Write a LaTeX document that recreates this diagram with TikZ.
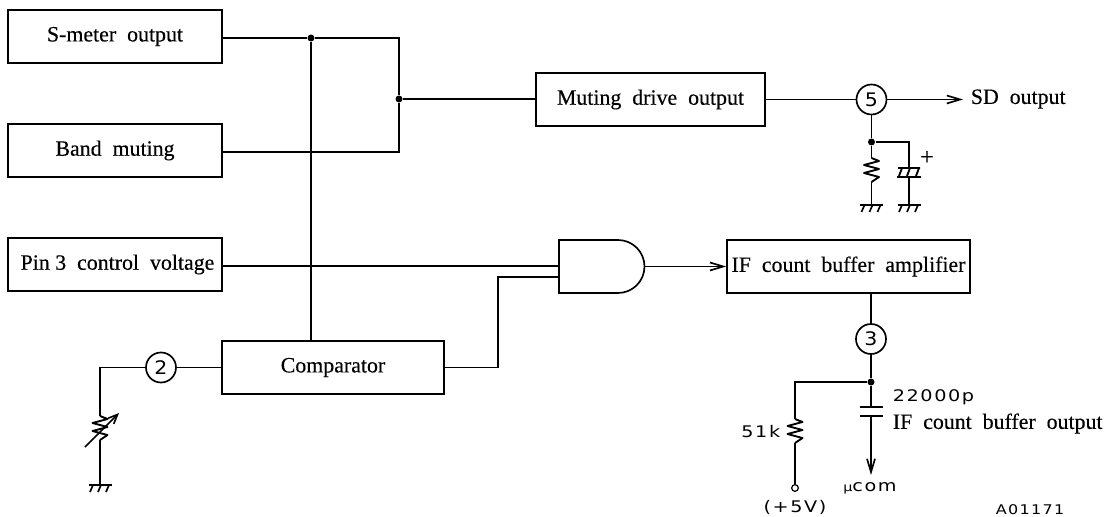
\documentclass[tikz,border=0pt]{standalone}
\usepackage{fontspec}
\usetikzlibrary{arrows.meta}
\setmainfont[FakeBold=0.3]{Liberation Serif}
\newfontfamily\labelfont[LetterSpace=10,FakeStretch=1.2]{DejaVu Sans}
\newfontfamily\pinfont[FakeStretch=1.1]{DejaVu Sans}
\begin{document}
\begin{tikzpicture}[x=0.75pt,y=-0.75pt,line width=1.25pt]

    \tikzset{
      blockbox/.style={
        draw,
        inner sep=0pt,
        minimum height=39.75pt,
        font=\fontsize{16.4}{18}\selectfont,
      },
      pincircle/.style={
        draw,
        circle,
        inner sep=0pt,
        minimum size=22.5pt,
        font=\pinfont\fontsize{14}{15}\selectfont,
      },
      dot/.style={
        circle,
        fill,
        inner sep=0pt,
        minimum size=5.25pt,
      },
      opendot/.style={
        draw,
        circle,
        inner sep=0pt,
        minimum size=5pt,
        line width=0.9pt,
      },
      plain/.style={
        inner sep=0pt,
        anchor=west,
        font=\fontsize{16.4}{18}\selectfont,
      },
      spaced/.style={
        inner sep=0pt,
        font=\labelfont\fontsize{12}{14}\selectfont,
      },
      sigarrow/.style={
        -{Straight Barb[length=10pt,width=6pt]},
      },
      resv/.pic={
        \coordinate (-t) at (0,-12);
        \coordinate (-b) at (0,12);
        \draw[line join=round,line width=1.4pt] (0,-12)--(7.5,-9)--(-7.5,-5)--(7.5,-1)--(-7.5,3)--(7.5,7)--(0,12);
      },
      gnd/.pic={
        \coordinate (-t) at (0,0);
        \draw[line width=1.8pt] (-11.5,0)--(11.5,0);
        \draw (-7,0)--(-10,7) (1,0)--(-2,7) (9,0)--(6,7);
      },
    }
    \clip (0,0) rectangle (1111,517);

    \node[blockbox,minimum width=160.5pt] (smeter) at (115,36.5) {S-meter\ \ output\hspace{10.5pt}};
    \node[blockbox,minimum width=160.5pt] (band) at (115,150.5) {Band\ \ muting\hspace{4.5pt}};
    \node[blockbox,minimum width=160.5pt] (pinv) at (115,264.5) {\hspace{3.75pt}Pin 3\ \ control\ \ voltage};
    \node[blockbox,minimum width=166.5pt] (comp) at (333,367.5) {Comparator\hspace{13.5pt}};
    \node[blockbox,minimum width=171.75pt] (drive) at (650.5,99.5) {Muting\ \ drive\ \ output};
    \node[blockbox,minimum width=182.25pt] (ifamp) at (848.5,266.5) {IF\ \ count\ \ buffer\ \ amplifier};

    \node[pincircle] (pfive) at (871.5,99.5) {5};
    \node[pincircle] (pthree) at (871,339) {3};
    \node[pincircle] (ptwo) at (161,367.5) {2};

    % gate
    \draw (559,240)--(618,240) arc (-90:90:26.5)--(559,293)--cycle;
    \coordinate (gatea) at (559,266);
    \coordinate (gateb) at (559,277);
    \coordinate (gateo) at (644.5,266.5);

    % logic side
    \node[dot] (jsm) at (311,38) {};
    \node[dot] (jor) at (399,99) {};
    \coordinate (orhigh) at (399,38);
    \coordinate (orlow) at (399,152);
    \coordinate (combend) at (498,277);
    \draw (smeter.east |- jsm)--(jsm)--(orhigh)--(jor)--(orlow)--(band.east |- orlow);
    \draw (jsm)--(comp.north -| jsm);
    \draw (jor)--(drive.west |- jor);
    \draw (pinv.east |- gatea)--(gatea);
    \draw (comp.east)--(combend |- comp.east)--(combend)--(gateb);
    \draw[sigarrow] (gateo)--(ifamp.west |- gateo);
    \draw (drive.east |- pfive)--(pfive);

    % SD output
    \coordinate (sdend) at (963,99.5);
    \node[plain] (sdtext) at (970,99) {SD\ \ output};
    \draw[sigarrow] (pfive)--(sdend);
    \node[dot] (jsd) at (871.5,142) {};
    \pic (rsd) at (871.5,170) {resv};
    \pic (gsd) at (871.5,205) {gnd};
    \pic (gcap) at (909,205) {gnd};
    \coordinate (capa) at (909,168);
    \coordinate (capb) at (909,177);
    \draw (pfive)--(jsd)--(rsd-t);
    \draw (rsd-b)--(gsd-t);
    \draw (jsd)--(capa |- jsd)--(capa);
    \draw (capb)--(gcap-t);
    \draw[line width=2pt] (897,177)--(921,177);
    \draw[line width=1.4pt] (898,168)--(920,168) (902,168)--(899,176) (910,168)--(907,176) (919,168)--(916,176);
    \node[inner sep=0pt,font=\fontsize{18}{18}\selectfont] (capplus) at (927,158) {+};

    % IF output
    \node[dot] (jif) at (871,382) {};
    \coordinate (rfcorner) at (795,382);
    \pic (rif) at (795,431) {resv};
    \node[opendot] (vcc) at (795,488) {};
    \coordinate (cifa) at (871,407);
    \coordinate (cifb) at (871,416);
    \coordinate (comend) at (871,475);
    \draw (ifamp.south -| pthree)--(pthree)--(jif)--(cifa);
    \draw (jif)--(rfcorner)--(rif-t);
    \draw (rif-b)--(vcc);
    \draw[sigarrow] (cifb)--(comend);
    \draw[line width=2pt] (859.5,407)--(882.5,407) (859.5,416)--(882.5,416);
    \node[spaced,anchor=west] (capval) at (892,397) {22000p};
    \node[plain] (ifout) at (892,423.5) {IF\ \ count\ \ buffer\ \ output};
    \node[spaced,anchor=east] (resval) at (781,432) {51k};
    \node[spaced] (fivev) at (795,507) {(+5V)};
    \node[spaced] (mcom) at (870,488) {{\fontsize{9}{10}\selectfont µ}com};
    \node[spaced,anchor=west,font=\labelfont\fontsize{10}{11}\selectfont] (drawno) at (995,510) {A01171};

    % pin 2
    \coordinate (vrcorner) at (100,367.5);
    \pic (rvar) at (100,428) {resv};
    \pic (gvar) at (100,485) {gnd};
    \coordinate (vrfrom) at (85,447);
    \coordinate (vrto) at (119,413);
    \draw (comp.west)--(ptwo)--(vrcorner)--(rvar-t);
    \draw (rvar-b)--(gvar-t);
    \draw[-{Straight Barb[length=7pt,width=6pt]}] (vrfrom)--(vrto);

\end{tikzpicture}
\end{document}
